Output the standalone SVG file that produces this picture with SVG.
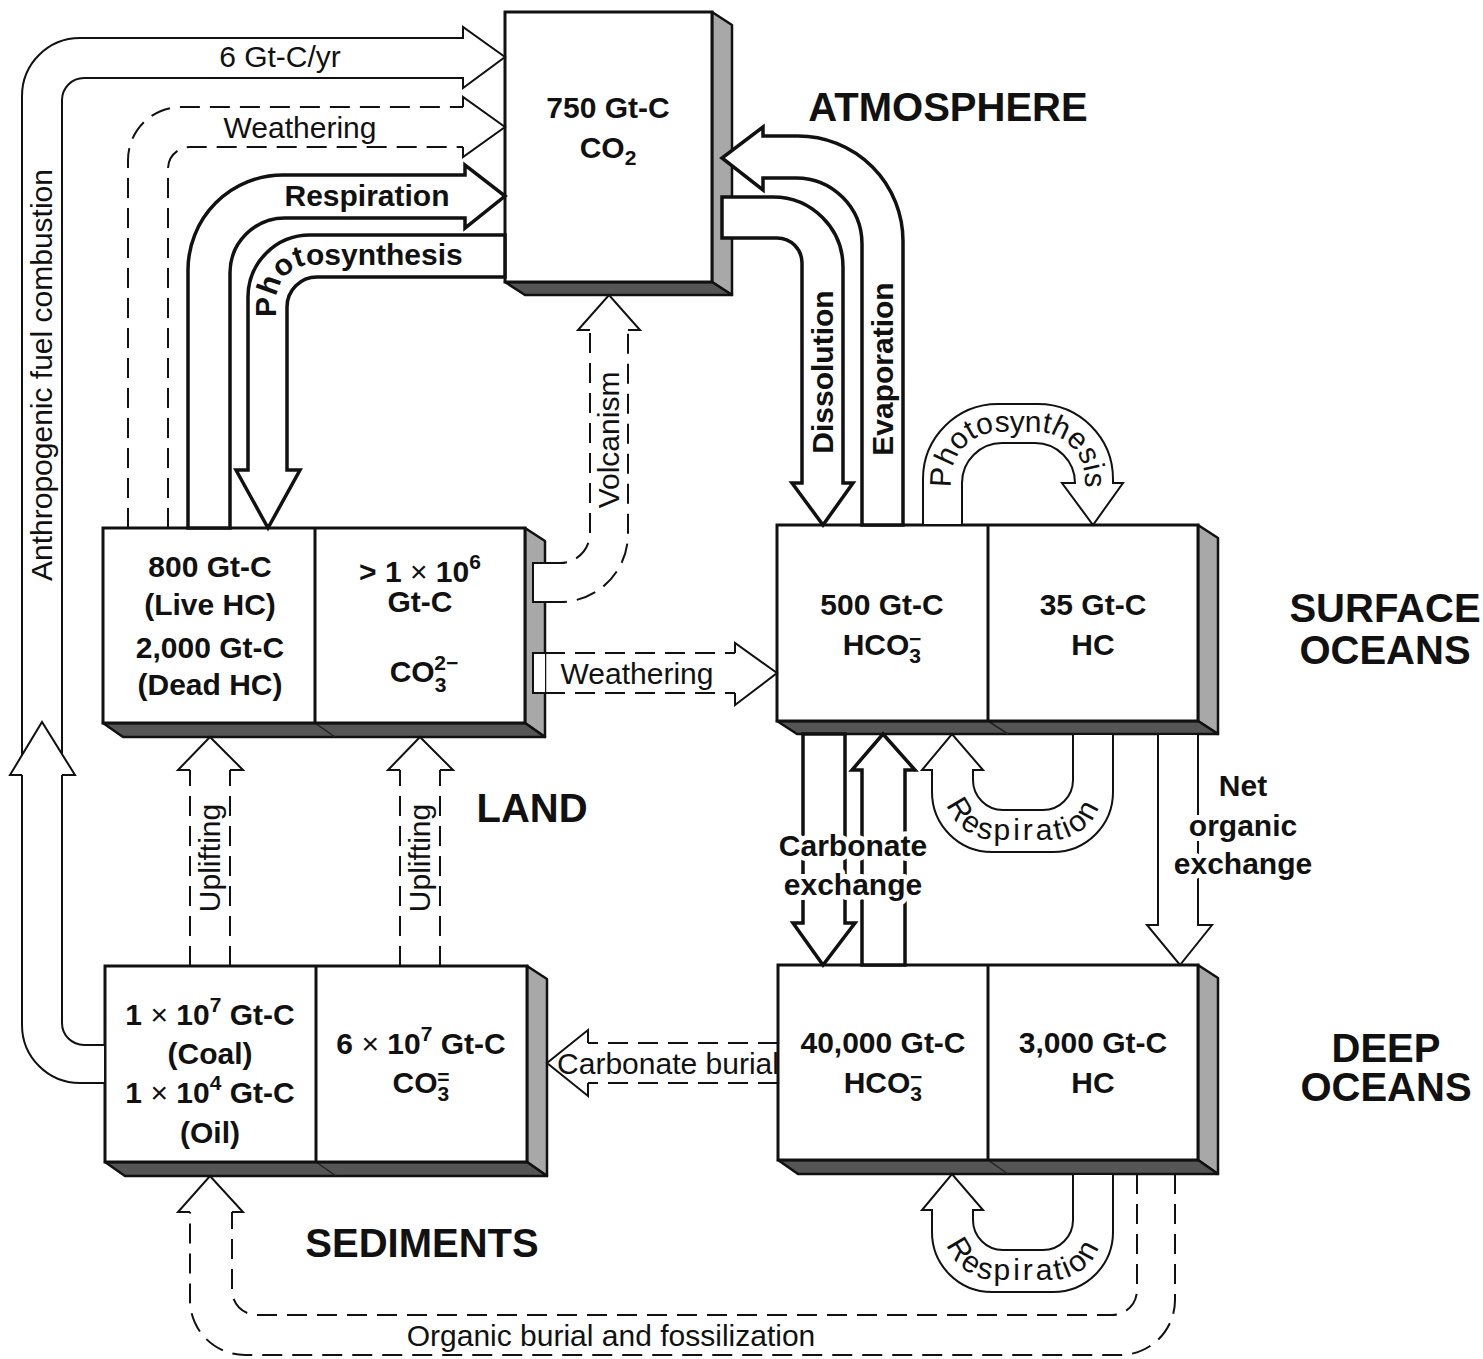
<svg xmlns="http://www.w3.org/2000/svg" width="1483" height="1359" viewBox="0 0 1483 1359">
<style>
.box{fill:#fff;stroke:#111;stroke-width:3}
.dv{fill:none;stroke:#111;stroke-width:3}
.sr{fill:#a8a8a8;stroke:#111;stroke-width:2.5;stroke-linejoin:round}
.sb{fill:#555;stroke:#111;stroke-width:2.5;stroke-linejoin:round}
.sl{fill:none;stroke:#222;stroke-width:1.5}
.thin{fill:#fff;stroke:#111;stroke-width:2}
.thick{fill:#fff;stroke:#111;stroke-width:3.5}
.dash{fill:none;stroke:#111;stroke-width:2;stroke-dasharray:20 10}
.head{fill:#fff;stroke:#111;stroke-width:2}
.t{font-family:"Liberation Sans",Arial,sans-serif;font-size:30px;fill:#111}
.b{font-weight:bold}
.big{font-family:"Liberation Sans",Arial,sans-serif;font-size:40px;font-weight:bold;fill:#111}
.m{text-anchor:middle}
.halo{paint-order:stroke;stroke:#fff;stroke-width:10;stroke-linejoin:round}
.s{font-size:21px}
.n{font-weight:normal}
</style>
<defs>
<path id="pLand" d="M 276.5,345 V 300 A 35.5 35.5 0 0 1 312,264.5 H 505"/>
<path id="pOcPh" d="M 951,500 V 480 A 48 48 0 0 1 999,432 H 1037 A 48 48 0 0 1 1085,480 V 500"/>
<path id="pResp1" d="M 945,760 V 790 A 50 50 0 0 0 995,840 H 1052 A 50 50 0 0 0 1102,790 V 760"/>
<path id="pResp2" d="M 945,1200 V 1230 A 50 50 0 0 0 995,1280 H 1052 A 50 50 0 0 0 1102,1230 V 1200"/>
</defs>
<rect width="1483" height="1359" fill="#fff"/>

<g id="atmosphere">
<polygon class="sr" points="712,12 732,25 732,295 712,282"/>
<polygon class="sb" points="505,282 712,282 732,295 525,295"/>
<rect class="box" x="505" y="12" width="207" height="270"/>
<text class="t b m" x="608" y="118">750 Gt-C</text>
<text class="t b m" x="608" y="158">CO<tspan class="s" dy="7">2</tspan></text>
</g>

<g id="land">
<polygon class="sr" points="525,528 545,541 545,737 525,723"/>
<polygon class="sb" points="103,723 525,723 545,737 123,737"/>
<line class="sl" x1="315" y1="723" x2="335" y2="737"/>
<rect class="box" x="103" y="528" width="422" height="195"/>
<line class="dv" x1="315" y1="528" x2="315" y2="723"/>
<text class="t b m" x="210" y="577">800 Gt-C</text>
<text class="t b m" x="210" y="615">(Live HC)</text>
<text class="t b m" x="210" y="658">2,000 Gt-C</text>
<text class="t b m" x="210" y="695">(Dead HC)</text>
<text class="t b m" x="420" y="582">&gt; 1 <tspan class="n">×</tspan> 10<tspan class="s" dy="-13">6</tspan></text>
<text class="t b m" x="420" y="612">Gt-C</text>
<text class="t b m" x="424" y="682">CO<tspan class="s" dy="10">3</tspan><tspan class="s" dx="-12" dy="-22">2−</tspan></text>
</g>

<g id="surface-oceans">
<polygon class="sr" points="1198,525 1218,538 1218,734 1198,721"/>
<polygon class="sb" points="777,721 1198,721 1218,734 797,734"/>
<line class="sl" x1="988" y1="721" x2="1008" y2="734"/>
<rect class="box" x="777" y="525" width="421" height="196"/>
<line class="dv" x1="988" y1="525" x2="988" y2="721"/>
<text class="t b m" x="882" y="615">500 Gt-C</text>
<text class="t b m" x="882" y="655">HCO<tspan class="s" dy="8">3</tspan><tspan class="s" dx="-12" dy="-17">−</tspan></text>
<text class="t b m" x="1093" y="615">35 Gt-C</text>
<text class="t b m" x="1093" y="655">HC</text>
</g>

<g id="deep-oceans">
<polygon class="sr" points="1198,965 1218,978 1218,1174 1198,1160"/>
<polygon class="sb" points="778,1160 1198,1160 1218,1174 798,1174"/>
<line class="sl" x1="988" y1="1160" x2="1008" y2="1174"/>
<rect class="box" x="778" y="965" width="420" height="195"/>
<line class="dv" x1="988" y1="965" x2="988" y2="1160"/>
<text class="t b m" x="883" y="1053">40,000 Gt-C</text>
<text class="t b m" x="883" y="1093">HCO<tspan class="s" dy="8">3</tspan><tspan class="s" dx="-12" dy="-17">−</tspan></text>
<text class="t b m" x="1093" y="1053">3,000 Gt-C</text>
<text class="t b m" x="1093" y="1093">HC</text>
</g>

<g id="sediments">
<polygon class="sr" points="527,966 547,979 547,1176 527,1162"/>
<polygon class="sb" points="105,1162 527,1162 547,1176 125,1176"/>
<line class="sl" x1="316" y1="1162" x2="336" y2="1176"/>
<rect class="box" x="105" y="966" width="422" height="196"/>
<line class="dv" x1="316" y1="966" x2="316" y2="1162"/>
<text class="t b m" x="210" y="1025">1 <tspan class="n">×</tspan> 10<tspan class="s" dy="-13">7</tspan><tspan dy="13"> Gt-C</tspan></text>
<text class="t b m" x="210" y="1064">(Coal)</text>
<text class="t b m" x="210" y="1103">1 <tspan class="n">×</tspan> 10<tspan class="s" dy="-13">4</tspan><tspan dy="13"> Gt-C</tspan></text>
<text class="t b m" x="210" y="1143">(Oil)</text>
<text class="t b m" x="421" y="1054">6 <tspan class="n">×</tspan> 10<tspan class="s" dy="-13">7</tspan><tspan dy="13"> Gt-C</tspan></text>
<text class="t b m" x="421" y="1093">CO<tspan class="s" dy="8">3</tspan><tspan class="s" dx="-12" dy="-17">=</tspan></text>
</g>

<g id="connectors">
<!-- anthropogenic fuel combustion -->
<path class="thin" d="M 105,1083 H 80 A 58 58 0 0 1 22,1025 V 96 A 58 58 0 0 1 80,38 H 463 V 27 L 505,57 L 463,88 V 78 H 84 A 22 22 0 0 0 62,100 V 1023 A 22 22 0 0 0 84,1045 H 105 Z"/>
<polyline class="head" points="22,775 10,775 42,722 75,775 62,775"/>
<!-- weathering land->atm -->
<path class="dash" d="M 128,528 V 160 A 53 53 0 0 1 181,107 H 463"/>
<path class="dash" d="M 168,528 V 169 A 22 22 0 0 1 190,147 H 463"/>
<polyline class="head" points="463,107 463,97 505,127 463,157 463,147"/>
<!-- respiration land->atm -->
<path class="thick" d="M 188,528 V 270 A 95 95 0 0 1 283,175 H 465 V 165 L 505,196 L 465,228 V 218 H 285 A 55 55 0 0 0 230,273 V 528 Z"/>
<!-- photosynthesis atm->land -->
<path class="thick" d="M 505,235 H 310 A 62 62 0 0 0 248,297 V 470 H 236 L 268,528 L 300,470 H 287 V 307 A 30 30 0 0 1 317,277 H 505 Z"/>
<!-- dissolution -->
<path class="thick" d="M 722,197 H 773 A 70 70 0 0 1 843,267 V 483 H 853 L 823,525 L 792,483 H 802 V 263 A 25 25 0 0 0 777,238 H 722 Z"/>
<!-- evaporation -->
<path class="thick" d="M 903,525 V 241 A 105 105 0 0 0 798,136 H 763 V 127 L 722,158 L 763,190 V 178 H 796 A 66 66 0 0 1 862,244 V 525 Z"/>
<!-- ocean photosynthesis -->
<path class="thin" d="M 923,525 V 479 A 75 75 0 0 1 998,404 H 1038 A 75 75 0 0 1 1113,479 V 483 H 1123 L 1093,525 L 1062,483 H 1075 A 40 40 0 0 0 1035,443 H 1002 A 40 40 0 0 0 962,483 V 525 Z"/>
<!-- surface respiration -->
<path class="thin" d="M 1113,734 V 792 A 60 60 0 0 1 1053,852 H 992 A 60 60 0 0 1 932,792 V 770 H 922 L 952,734 L 983,770 H 973 V 780 A 30 30 0 0 0 1003,810 H 1043 A 30 30 0 0 0 1073,780 V 734 Z"/>
<!-- deep respiration -->
<path class="thin" transform="translate(0,440)" d="M 1113,734 V 792 A 60 60 0 0 1 1053,852 H 992 A 60 60 0 0 1 932,792 V 770 H 922 L 952,734 L 983,770 H 973 V 780 A 30 30 0 0 0 1003,810 H 1043 A 30 30 0 0 0 1073,780 V 734 Z"/>
<!-- carbonate exchange -->
<path class="thick" d="M 803,734 V 923 H 793 L 823,965 L 855,923 H 845 V 734 Z"/>
<path class="thick" d="M 862,965 V 770 H 852 L 883,734 L 915,770 H 905 V 965 Z"/>
<!-- net organic exchange -->
<path class="thin" d="M 1158,734 V 925 H 1147 L 1180,965 L 1212,925 H 1198 V 734 Z"/>
<!-- volcanism -->
<path class="thin" d="M 547,563 H 533 V 602 H 547"/>
<path class="dash" d="M 547,563 H 560 A 30 30 0 0 0 590,533 V 330"/>
<path class="dash" d="M 547,602 H 560 A 68 68 0 0 0 628,534 V 330"/>
<polyline class="head" points="590,330 578,330 609,295 640,330 628,330"/>
<!-- weathering land->surface -->
<path class="thin" d="M 545,653 H 533 V 693 H 545"/>
<path class="dash" d="M 545,653 H 735"/>
<path class="dash" d="M 545,693 H 735"/>
<polyline class="head" points="735,653 735,643 777,673 735,705 735,693"/>
<!-- uplifting -->
<path class="dash" d="M 190,966 V 770"/>
<path class="dash" d="M 230,966 V 770"/>
<polyline class="head" points="190,770 178,770 210,737 243,770 230,770"/>
<path class="dash" d="M 400,966 V 770"/>
<path class="dash" d="M 440,966 V 770"/>
<polyline class="head" points="400,770 388,770 420,737 453,770 440,770"/>
<!-- carbonate burial -->
<path class="dash" d="M 778,1043 H 588"/>
<path class="dash" d="M 778,1083 H 588"/>
<polyline class="head" points="588,1043 588,1030 547,1063 588,1096 588,1083"/>
<!-- organic burial -->
<path class="dash" d="M 1137,1174 V 1290 A 25 25 0 0 1 1112,1315 H 257 A 25 25 0 0 1 232,1290 V 1212"/>
<path class="dash" d="M 1175,1174 V 1300 A 55 55 0 0 1 1120,1355 H 245 A 55 55 0 0 1 190,1300 V 1212"/>
<polyline class="head" points="190,1212 178,1212 210,1176 243,1212 232,1212"/>
</g>

<g id="labels">
<text class="t m" x="280" y="67">6 Gt-C/yr</text>
<text class="t m" x="300" y="138">Weathering</text>
<text class="t b m" x="367" y="206">Respiration</text>
<text class="t m" transform="translate(42,375) rotate(-90)" y="10">Anthropogenic fuel combustion</text>
<text class="t b"><textPath href="#pLand" startOffset="28">Photosynthesis</textPath></text>
<text class="t b m" transform="translate(822,372) rotate(-90)" y="11">Dissolution</text>
<text class="t b m" transform="translate(882,369) rotate(-90)" y="11">Evaporation</text>
<text class="t m" transform="translate(609,440) rotate(-90)" y="10">Volcanism</text>
<text class="t m" transform="translate(210,858) rotate(-90)" y="10">Uplifting</text>
<text class="t m" transform="translate(420,858) rotate(-90)" y="10">Uplifting</text>
<text class="t m" x="637" y="684">Weathering</text>
<text class="t m" x="668" y="1074">Carbonate burial</text>
<text class="t m" x="611" y="1346">Organic burial and fossilization</text>
<text class="t" font-size="29"><textPath href="#pOcPh" startOffset="50%" text-anchor="middle">Photosynthesis</textPath></text>
<text class="t" letter-spacing="3"><textPath href="#pResp1" startOffset="50%" text-anchor="middle">Respiration</textPath></text>
<text class="t" letter-spacing="3"><textPath href="#pResp2" startOffset="50%" text-anchor="middle">Respiration</textPath></text>
<text class="t b m halo" x="853" y="856">Carbonate</text>
<text class="t b m halo" x="853" y="895">exchange</text>
<text class="t b m halo" x="1243" y="796">Net</text>
<text class="t b m halo" x="1243" y="836">organic</text>
<text class="t b m halo" x="1243" y="874">exchange</text>
<text class="big m" x="948" y="121">ATMOSPHERE</text>
<text class="big m" x="532" y="822">LAND</text>
<text class="big m" x="422" y="1257">SEDIMENTS</text>
<text class="big m" x="1385" y="622">SURFACE</text>
<text class="big m" x="1385" y="664">OCEANS</text>
<text class="big m" x="1386" y="1062">DEEP</text>
<text class="big m" x="1386" y="1101">OCEANS</text>
</g>
</svg>
